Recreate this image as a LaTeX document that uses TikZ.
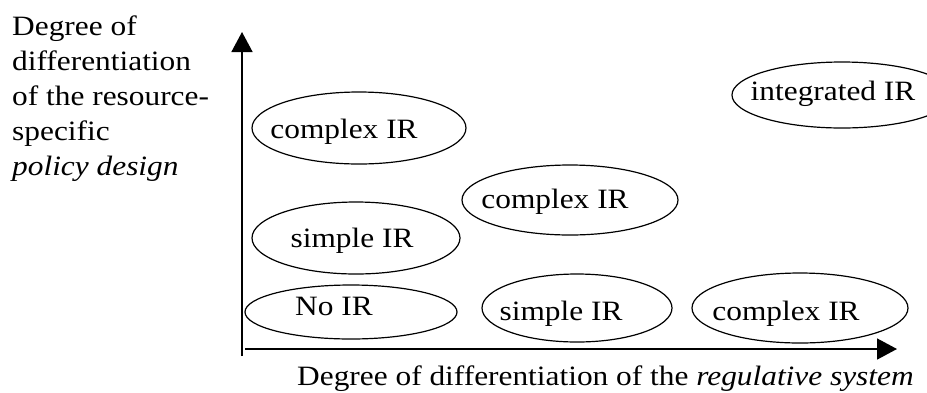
\documentclass[tikz,border=0pt]{standalone}
\usepackage{fontspec}
\setmainfont{Liberation Serif}[FakeStretch=1.12]
\usetikzlibrary{shapes.geometric}
\usetikzlibrary{arrows.meta}

\tikzset{
  axis/.style={line width=1.6pt,-{Triangle[length=20pt,width=21pt]}},
  irbox/.style={draw, ellipse, line width=1.2pt, inner sep=0pt,
    text height=20pt, text depth=0pt, font=\fontsize{28pt}{32pt}\selectfont},
  axislabel/.style={font=\fontsize{28pt}{35pt}\selectfont, align=left, inner sep=0pt}
}

\begin{document}
\begin{tikzpicture}[x=1pt,y=-1pt]
\useasboundingbox (0,0) rectangle (927,392);
% axes
\coordinate (ybot) at (242,356);
\coordinate (ytop) at (242,32);
\coordinate (xleft) at (245,349);
\coordinate (xright) at (897,349);
\draw[axis] (ybot) -- (ytop);
\draw[axis] (xleft) -- (xright);
\node[axislabel, anchor=base west] (ylab) at (12,175) {Degree of\\differentiation\\of the resource-\\specific\\\textit{policy design}};
\node[axislabel, anchor=base west] (xlab) at (297,385) {Degree of differentiation of the \textit{regulative system}};
% regimes
\node[irbox, minimum width=212pt, minimum height=54pt, text height=6pt] (noir) at (351,312) {\hspace*{-34pt}No IR};
\node[irbox, minimum width=208pt, minimum height=72pt, text height=18pt] (simpleA) at (356,238) {\hspace*{-8pt}simple IR};
\node[irbox, minimum width=214pt, minimum height=72pt] (complexA) at (359,128) {\hspace*{-30pt}complex IR};
\node[irbox, minimum width=190pt, minimum height=68pt, text height=24pt] (simpleB) at (577,308) {\hspace*{-32pt}simple IR};
\node[irbox, minimum width=216pt, minimum height=70pt, text height=16pt] (complexB) at (570,200) {\hspace*{-30pt}complex IR};
\node[irbox, minimum width=216pt, minimum height=70pt, text height=24pt] (complexC) at (800,308) {\hspace*{-28pt}complex IR};
\node[irbox, minimum width=220pt, minimum height=66pt, text height=10pt] (integr) at (842,95) {\hspace*{-18pt}integrated IR};
\end{tikzpicture}
\end{document}
